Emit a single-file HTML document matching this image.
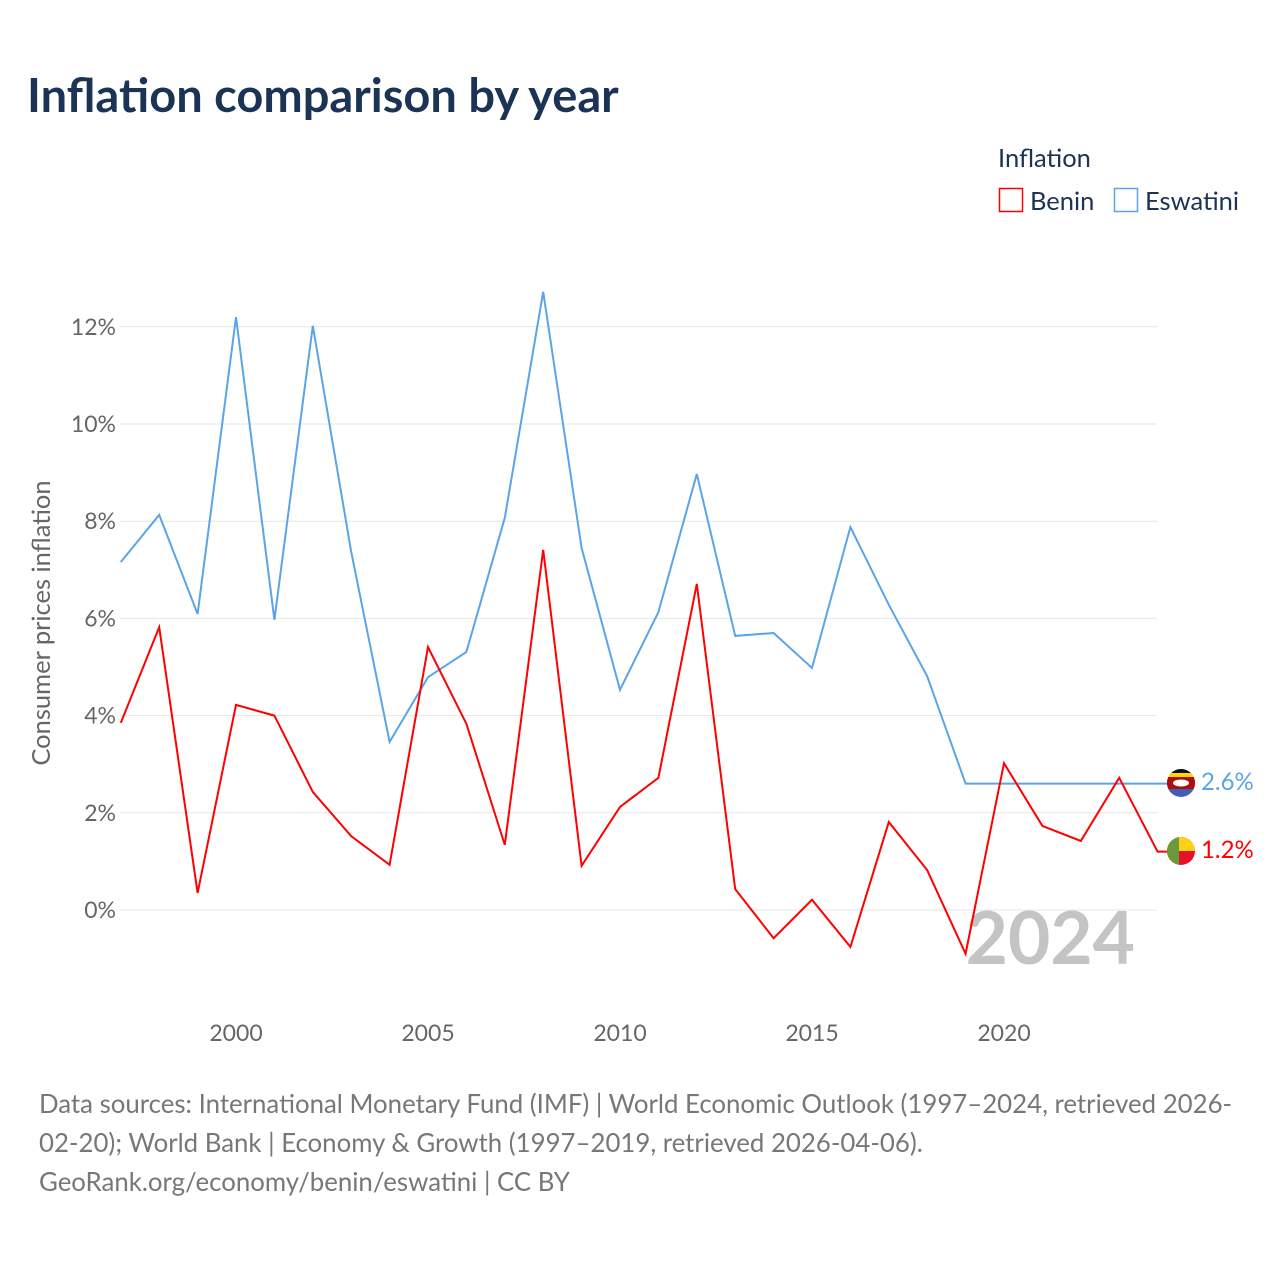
<!DOCTYPE html>
<html><head><meta charset="utf-8">
<style>
body{margin:0;background:#fff;font-family:"Liberation Sans",sans-serif;}
svg text{font-family:"Lato","Liberation Sans",sans-serif;}
</style></head>
<body>
<svg width="1280" height="1280" viewBox="0 0 1280 1280" xmlns="http://www.w3.org/2000/svg">
<text x="27" y="112" font-size="47" font-weight="bold" fill="#1b3355">Inflation comparison by year</text>
<g>
<text x="998" y="167" font-size="25.5" fill="#1b3355">Inflation</text>
<g><rect x="999.5" y="188.5" width="23" height="23" fill="none" stroke="#ff0000" stroke-width="1.5"/><text x="1030" y="210" font-size="25.5" fill="#1b3355">Benin</text></g>
<g><rect x="1114.5" y="188.5" width="23" height="23" fill="none" stroke="#5ba4e8" stroke-width="1.5"/><text x="1145" y="210" font-size="25.5" fill="#1b3355">Eswatini</text></g>
</g>
<g id="grid"></g>
<g id="xticks"></g>
<text transform="translate(50,623) rotate(-90)" text-anchor="middle" font-size="25.5" fill="#666">Consumer prices inflation</text>
<text x="1135" y="964" text-anchor="end" font-size="73" font-weight="bold" fill="#c4c4c4">2024</text>
<g id="series"></g>
<g>
<clipPath id="c1"><circle cx="1181" cy="783" r="14"/></clipPath>
<g clip-path="url(#c1)"><rect x="1167" y="769" width="28" height="28" fill="#3e5eb9"/><rect x="1167" y="773" width="28" height="4" fill="#ffd900"/><rect x="1167" y="777" width="28" height="12" fill="#b10c0c"/><rect x="1167" y="769" width="28" height="4" fill="#111"/><ellipse cx="1181" cy="783" rx="8" ry="3.5" fill="#fff"/></g>
<text x="1201" y="790" font-size="24" fill="#5ba4e8">2.6%</text>
</g>
<g>
<clipPath id="c2"><circle cx="1181" cy="851" r="14"/></clipPath>
<g clip-path="url(#c2)"><rect x="1167" y="837" width="28" height="28" fill="#e8112d"/><rect x="1167" y="837" width="28" height="14" fill="#fcd116"/><rect x="1167" y="837" width="12" height="28" fill="#6a9a3a"/></g>
<text x="1201" y="858" font-size="24" fill="#ff0000">1.2%</text>
</g>
<g font-size="25.8" fill="#777">
<text x="39" y="1113">Data sources: International Monetary Fund (IMF) | World Economic Outlook (1997–2024, retrieved 2026-</text>
<text x="39" y="1152">02-20); World Bank | Economy &amp; Growth (1997–2019, retrieved 2026-04-06).</text>
<text x="39" y="1191">GeoRank.org/economy/benin/eswatini | CC BY</text>
</g>
</svg>
<script>
const years=[1997,1998,1999,2000,2001,2002,2003,2004,2005,2006,2007,2008,2009,2010,2011,2012,2013,2014,2015,2016,2017,2018,2019,2020,2021,2022,2023,2024];
const benin=[3.85,5.82,0.35,4.22,4.0,2.43,1.52,0.93,5.41,3.83,1.34,7.41,0.91,2.12,2.72,6.71,0.43,-0.58,0.21,-0.76,1.81,0.82,-0.9,3.02,1.73,1.42,2.72,1.2];
const eswatini=[7.16,8.13,6.09,12.2,5.97,12.02,7.37,3.46,4.79,5.31,8.07,12.72,7.45,4.53,6.13,8.97,5.64,5.7,4.98,7.88,6.28,4.81,2.6];
const yTicks=[0,2,4,6,8,10,12];
const xTicks=[2000,2005,2010,2015,2020];
const NS="http://www.w3.org/2000/svg";
const X=y=>120.8+(y-1997)*38.4;
const Y=v=>910-v*48.6;
const grid=document.getElementById('grid');
yTicks.forEach(t=>{
 const l=document.createElementNS(NS,'line');
 l.setAttribute('x1',120);l.setAttribute('x2',1157);l.setAttribute('y1',Y(t));l.setAttribute('y2',Y(t));
 l.setAttribute('stroke','#e6e6e6');l.setAttribute('stroke-width','1');
 
 
 grid.appendChild(l);
 const tx=document.createElementNS(NS,'text');
 tx.setAttribute('x',116);tx.setAttribute('y',Y(t)+8);tx.setAttribute('text-anchor','end');
 tx.setAttribute('font-size','23');tx.setAttribute('fill','#666');tx.textContent=t+'%';
 
 
 grid.appendChild(tx);
});
const xt=document.getElementById('xticks');
xTicks.forEach(t=>{
 const tx=document.createElementNS(NS,'text');
 tx.setAttribute('x',X(t));tx.setAttribute('y',1041);tx.setAttribute('text-anchor','middle');
 tx.setAttribute('font-size','23');tx.setAttribute('fill','#666');tx.textContent=t;
 
 
 xt.appendChild(tx);
});
const s=document.getElementById('series');
function line(vals,color,name){
 const last=vals[vals.length-1];
 let pts=vals.map((v,i)=>X(years[i])+','+Y(v));
 pts.push((X(years[years.length-1])+10)+','+Y(last));
 const p=document.createElementNS(NS,'polyline');
 p.setAttribute('points',pts.join(' '));p.setAttribute('fill','none');
 p.setAttribute('stroke',color);p.setAttribute('stroke-width','2');
 
 
 s.appendChild(p);
}
line(eswatini,'#5ba4e8','eswatini-line');
line(benin,'#ff0000','benin-line');
</script>
</body></html>
